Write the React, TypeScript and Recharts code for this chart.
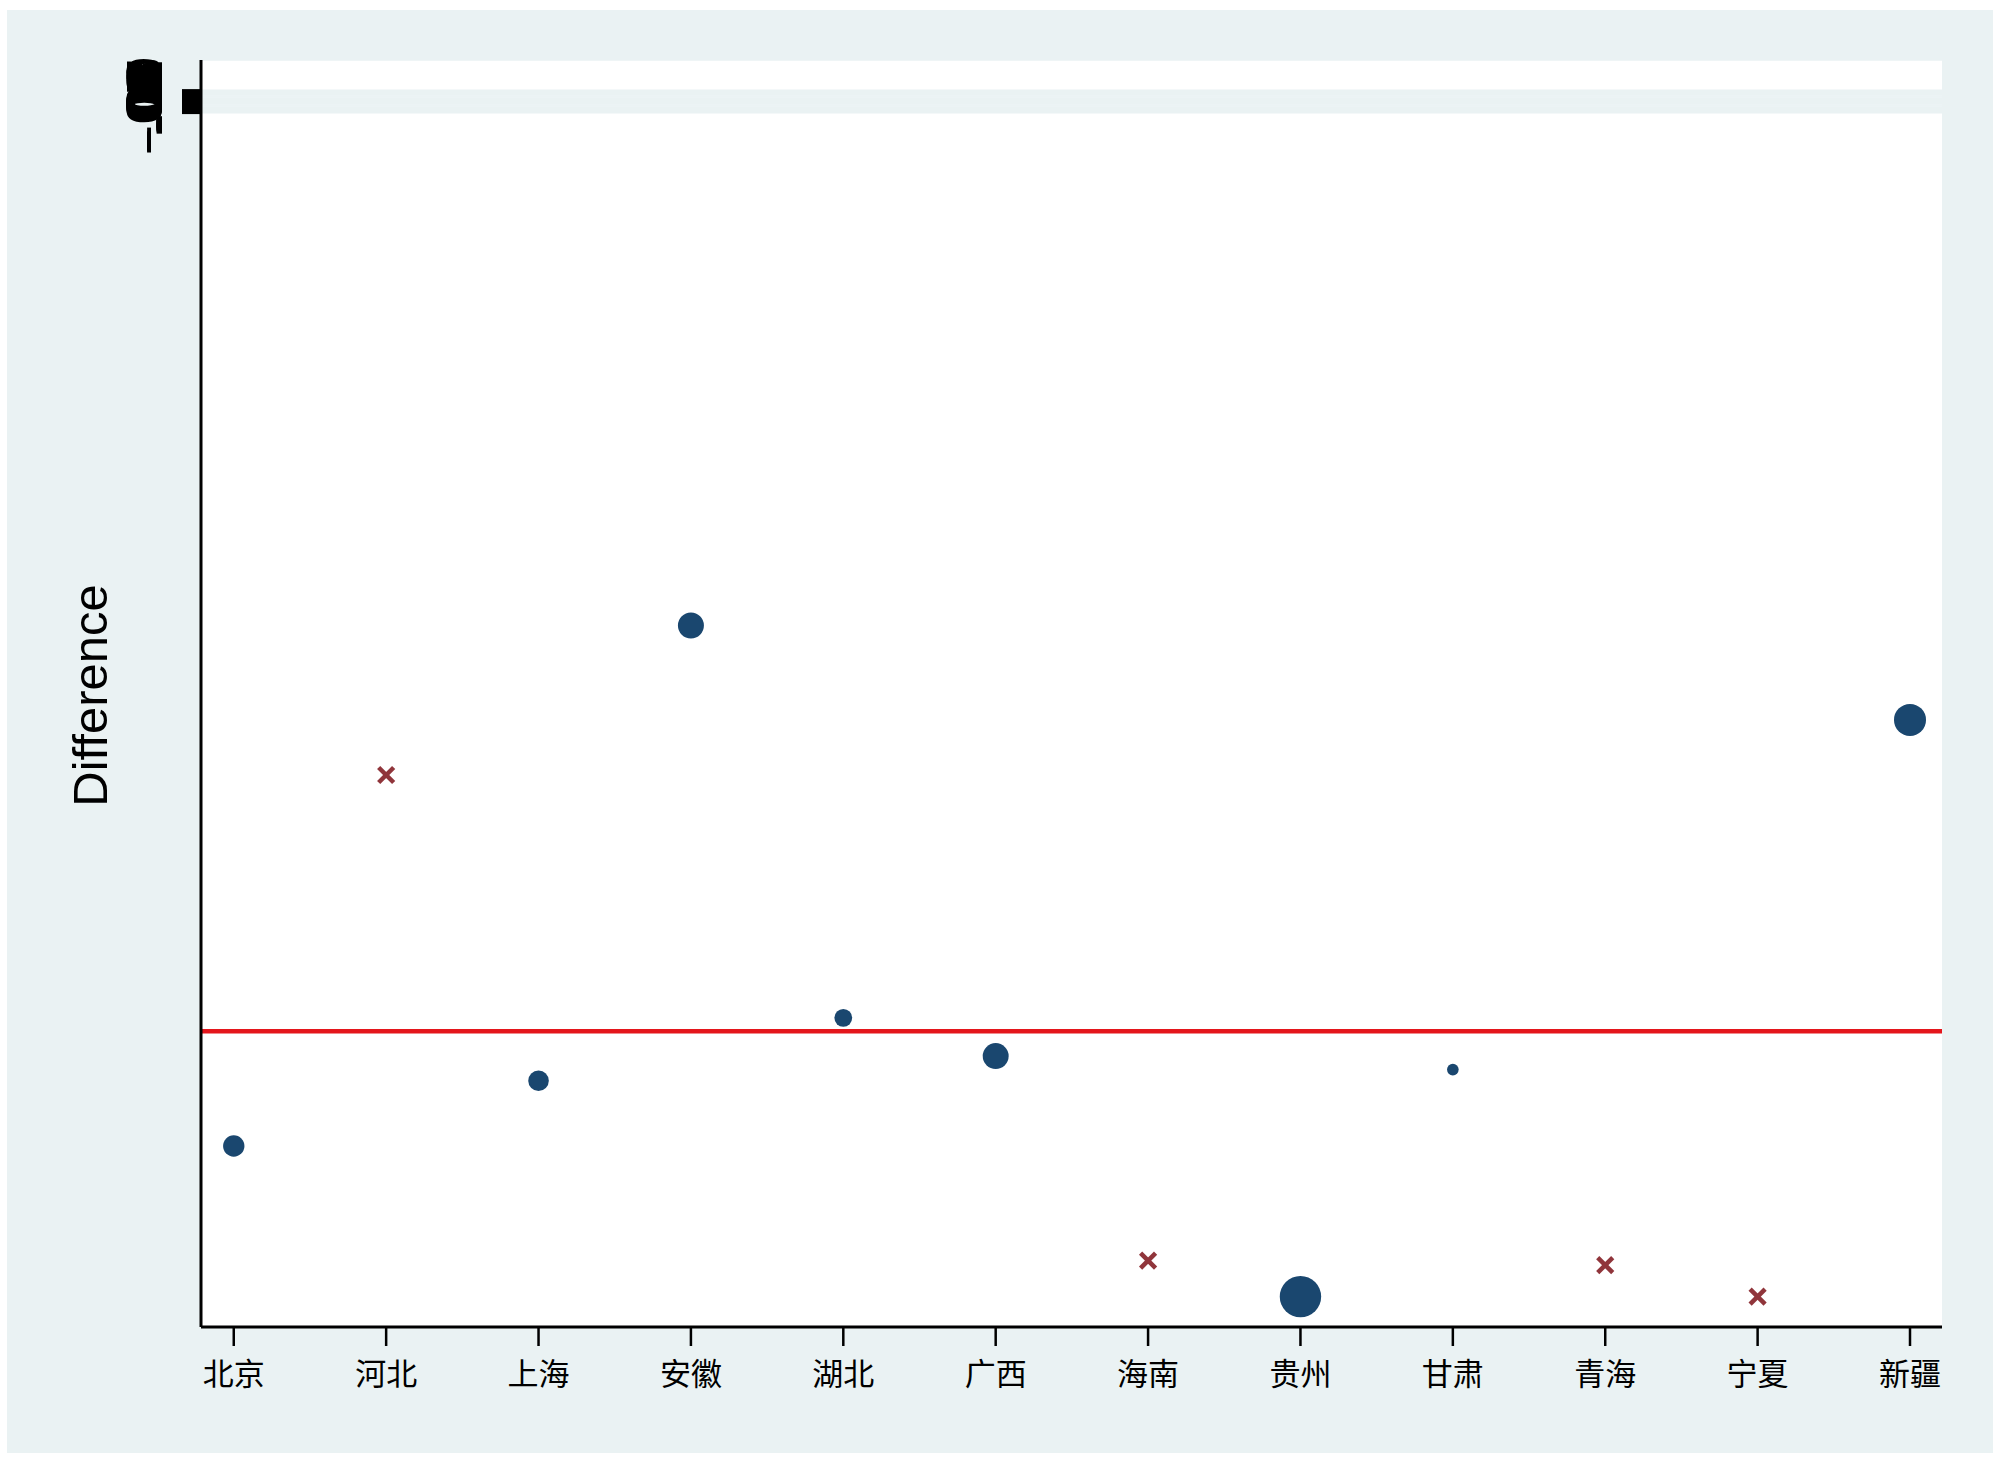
import { ScatterChart, Scatter, XAxis, YAxis, ZAxis, CartesianGrid, ReferenceLine } from 'recharts'

// categories along the x axis, in plotting order
const provinces = ['北京', '河北', '上海', '安徽', '湖北', '广西', '海南', '贵州', '甘肃', '青海', '宁夏', '新疆']

// provinces drawn as weighted circles
const circleProvinces = ['北京', '上海', '安徽', '湖北', '广西', '贵州', '甘肃', '新疆']
const circleDiff = [-9.29, -8.71, -4.66, -8.15, -8.49, -10.63, -8.61, -5.5]
const circleWeight = [11.4, 10.6, 16.9, 7.9, 16.8, 42.8, 3.4, 25.6]

// provinces drawn as crosses
const crossProvinces = ['河北', '海南', '青海', '宁夏']
const crossDiff = [-5.99, -10.31, -10.35, -10.63]

const meanDiff = -8.27

const yTicks = [
  -0.1, -0.09, -0.08, -0.07, -0.06, -0.05, -0.04, -0.03, -0.02, -0.01, 0,
  0.01, 0.02, 0.03, 0.04, 0.05, 0.06, 0.07, 0.08, 0.09, 0.1,
]
const xTicks = [1, 2, 3, 4, 5, 6, 7, 8, 9, 10, 11, 12]

const circleData = circleProvinces.map((p, i) => ({
  x: provinces.indexOf(p) + 1,
  y: circleDiff[i],
  w: circleWeight[i],
}))
const crossData = crossProvinces.map((p, i) => ({
  x: provinces.indexOf(p) + 1,
  y: crossDiff[i],
}))

// stata-ish label: -0.1 -> "-.1"
const stataFmt = (v: number) => {
  if (v === 0) return '0'
  return v.toFixed(2).replace(/0+$/, '').replace(/^(-?)0\./, '$1.')
}

const YTick = (props: any) => {
  const { x, y, payload } = props
  return (
    <text
      x={x}
      y={y}
      transform={`rotate(-90, ${x}, ${y})`}
      textAnchor="middle"
      fontFamily="'Liberation Sans', Arial, sans-serif"
      fontSize={50}
      fill="#000"
    >
      {stataFmt(payload.value)}
    </text>
  )
}

const Cross = (props: any) => {
  const { cx, cy } = props
  const h = 7.5
  return (
    <g stroke="#90353B" strokeWidth={4.5}>
      <line x1={cx - h} y1={cy - h} x2={cx + h} y2={cy + h} />
      <line x1={cx - h} y1={cy + h} x2={cx + h} y2={cy - h} />
    </g>
  )
}

const YTitle = (props: any) => {
  const { viewBox } = props
  const cx = viewBox.x + 90
  const cy = viewBox.y + viewBox.height / 2 + 2
  return (
    <text
      x={cx}
      y={cy}
      transform={`rotate(-90, ${cx}, ${cy})`}
      textAnchor="middle"
      dominantBaseline="central"
      fontFamily="'Liberation Sans', Arial, sans-serif"
      fontSize={49}
      fill="#000"
    >
      Difference
    </text>
  )
}

export default function App() {
  return (
    <div style={{ position: 'absolute', left: 0, top: 0, width: 2000, height: 1464, background: '#fff' }}>
      <div style={{ position: 'absolute', left: 7, top: 10, width: 1986, height: 1443, background: '#EAF2F3' }} />
      <div style={{ position: 'absolute', left: 0, top: 0 }}>
        <ScatterChart width={2000} height={1464} margin={{ top: 60, right: 58, bottom: 0, left: 0 }}>
          <CartesianGrid vertical={false} fill="#ffffff" stroke="#EAF2F3" strokeWidth={1.5} />
          <XAxis
            type="number"
            dataKey="x"
            domain={[0.785, 12.21]}
            ticks={xTicks}
            interval={0}
            height={137}
            tickSize={19}
            tickMargin={17}
            tickFormatter={(v: number) => provinces[v - 1]}
            tick={{ fontFamily: "'Noto Sans CJK SC', sans-serif", fontSize: 31, fill: '#000' }}
            tickLine={{ stroke: '#000', strokeWidth: 2.5 }}
            axisLine={{ stroke: '#000', strokeWidth: 3 }}
          />
          <YAxis
            type="number"
            dataKey="y"
            domain={[-10.9, 0.37]}
            ticks={yTicks}
            interval={0}
            width={201}
            tickSize={19}
            tickMargin={20}
            tick={<YTick />}
            tickLine={{ stroke: '#000', strokeWidth: 2.5 }}
            axisLine={{ stroke: '#000', strokeWidth: 3 }}
            label={<YTitle />}
          />
          <ZAxis type="number" dataKey="w" domain={[0, 42.8]} range={[0, 1346]} />
          <ReferenceLine y={meanDiff} stroke="#E4161C" strokeWidth={4.5} />
          <Scatter data={circleData} fill="#1A476F" isAnimationActive={false} />
          <Scatter data={crossData} shape={<Cross />} isAnimationActive={false} />
        </ScatterChart>
      </div>
    </div>
  )
}
